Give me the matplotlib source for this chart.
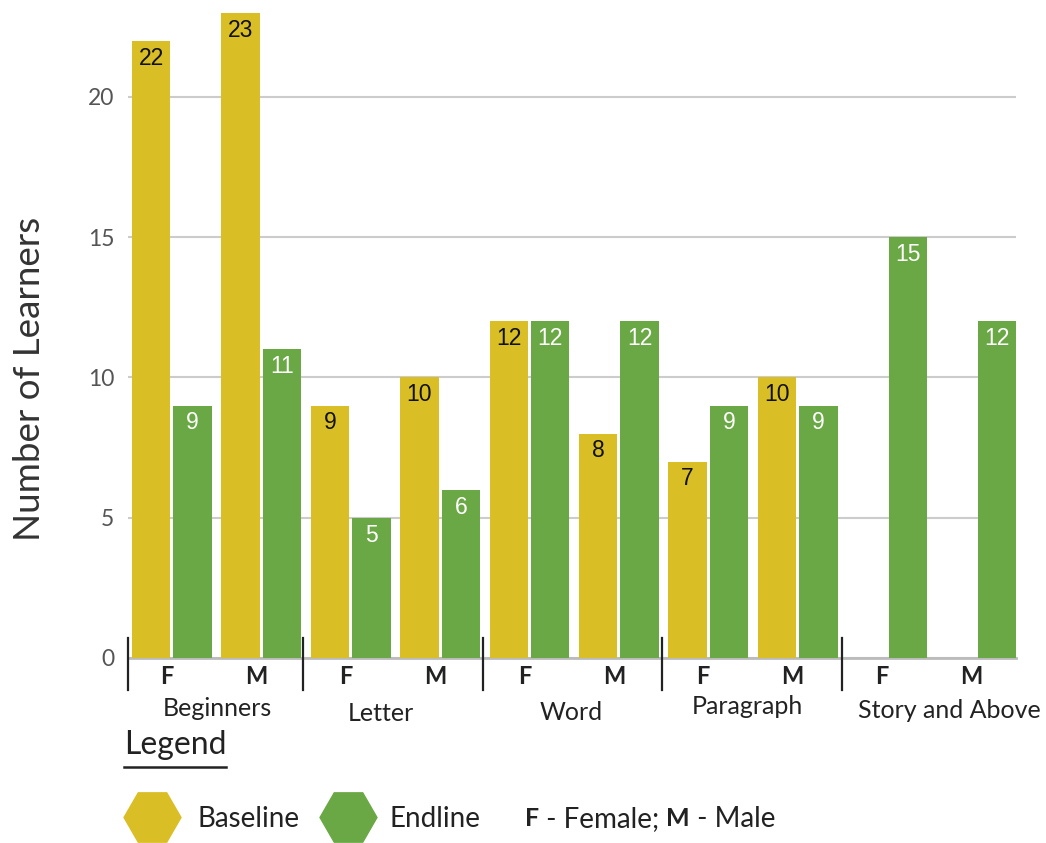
import matplotlib.pyplot as plt
import numpy as np
from matplotlib.lines import Line2D

plt.rcParams['font.family'] = ['Lato', 'DejaVu Sans']

# Reading levels, each split into Female / Male
levels = ['Beginners', 'Letter', 'Word', 'Paragraph', 'Story and Above']
sexes = ['F', 'M']

# Learner counts per level, ordered F, M
baseline = [22, 23, 9, 10, 12, 8, 7, 10, 0, 0]
endline = [9, 11, 5, 6, 12, 12, 9, 9, 15, 12]

YELLOW = '#DABE26'
GREEN = '#6AA845'

fig = plt.figure(figsize=(10.46, 8.43), dpi=100)
ax = fig.add_axes([128 / 1046, 1 - 658 / 843, 888 / 1046, 648 / 843])

x = np.arange(len(baseline))
w = 0.43
xb = x + 0.215
xe = x + 0.679

bars_b = ax.bar(xb, baseline, w, color=YELLOW, zorder=2)
bars_e = ax.bar(xe, endline, w, color=GREEN, zorder=2)

def add_labels(bars, values, color):
    for bar, v in zip(bars, values):
        if v == 0:
            continue
        ax.annotate(str(v), (bar.get_x() + bar.get_width() / 2, v),
                    xytext=(0, -12.5), textcoords='offset points',
                    ha='center', va='center', fontsize=16.5, color=color,
                    family=['Liberation Sans', 'DejaVu Sans'])

add_labels(bars_b, baseline, '#111111')
add_labels(bars_e, endline, 'white')

ax.set_xlim(-0.045, 9.89)
ax.set_ylim(0, 23.1)
ax.set_yticks([0, 5, 10, 15, 20])
ax.tick_params(axis='y', length=0, pad=10, labelsize=16.5, labelcolor='#555555')
ax.set_xticks([])
ax.yaxis.grid(True, color='#cccccc', linewidth=1.5, zorder=0)
ax.set_axisbelow(True)
for s in ['top', 'right', 'left']:
    ax.spines[s].set_visible(False)
ax.spines['bottom'].set_color('#bbbbbb')
ax.spines['bottom'].set_linewidth(2)
ax.spines['bottom'].set_zorder(1)

ax.set_ylabel('Number of Learners', fontsize=26.5, color='#333333')
ax.yaxis.set_label_coords(-82 / 888, 0.43)

# F / M sub-labels and level names under the axis
trans = ax.get_xaxis_transform()
for i in range(len(baseline)):
    ax.text(i + 0.39, -0.028, sexes[i % 2], transform=trans, ha='center',
            va='center', fontsize=17, fontweight='bold', color='#222222')

level_x = [0.95, 2.78, 4.91, 6.88, 9.15]
level_y = [-0.078, -0.086, -0.084, -0.075, -0.081]
for name, lx, ly in zip(levels, level_x, level_y):
    ax.text(lx, ly, name, transform=trans, ha='center', va='center',
            fontsize=18, color='#222222')

# group separators
sep_x = [-0.045, 1.915, 3.925, 5.935, 7.945]
for sx in sep_x:
    ax.add_line(Line2D([sx, sx], [0.031, -0.05], transform=trans,
                       color='#222222', linewidth=1.6, clip_on=False))

# legend block
fig.text(124 / 1046, 1 - 745 / 843, 'Legend', fontsize=23, color='#222222',
         ha='left', va='center')
fig.add_artist(Line2D([124 / 1046, 226 / 1046], [1 - 767 / 843] * 2,
                      color='#222222', linewidth=1.8))

for cx, col in [(152, YELLOW), (348, GREEN)]:
    fig.add_artist(Line2D([cx / 1046], [1 - 817 / 843], marker='H',
                          markersize=41, color=col, linestyle='none'))

fig.text(198 / 1046, 1 - 819 / 843, 'Baseline', fontsize=20,
         color='#222222', va='center')
fig.text(390 / 1046, 1 - 819 / 843, 'Endline', fontsize=20,
         color='#222222', va='center')

t = fig.text(525 / 1046, 1 - 819 / 843, 'F', fontsize=18, fontweight='bold',
             color='#222222', va='center')
t = ax.annotate(' - Female; ', xy=(1, 0.5), xycoords=t, va='center',
                fontsize=20, color='#222222')
t = ax.annotate('M', xy=(1, 0.5), xycoords=t, va='center', fontsize=18,
                fontweight='bold', color='#222222')
ax.annotate(' - Male', xy=(1, 0.5), xycoords=t, va='center',
            fontsize=20, color='#222222')

plt.savefig('out.png', dpi=100)
